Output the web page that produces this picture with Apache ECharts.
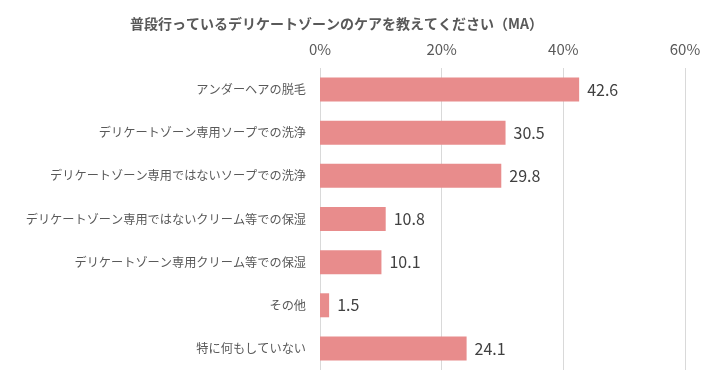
<!DOCTYPE html>
<html><head><meta charset="utf-8">
<script src="https://cdn.jsdelivr.net/npm/echarts@6/dist/echarts.min.js"></script>
<style>html,body{margin:0;padding:0;background:#fff}#c{width:711px;height:371px}</style>
</head><body><div id="c"></div>
<script>
const titleText = '普段行っているデリケートゾーンのケアを教えてください（MA）';
const categories = ['アンダーヘアの脱毛','デリケートゾーン専用ソープでの洗浄','デリケートゾーン専用ではないソープでの洗浄','デリケートゾーン専用ではないクリーム等での保湿','デリケートゾーン専用クリーム等での保湿','その他','特に何もしていない'];
const values = [42.6, 30.5, 29.8, 10.8, 10.1, 1.5, 24.1];
const axisMax = 60, axisStep = 20;
const font = '"Noto Sans CJK JP", "Noto Sans", sans-serif';
const chart = echarts.init(document.getElementById('c'));
chart.setOption({
  animation:false,
  backgroundColor:'#fff',
  title:{text:titleText,left:125,top:12,textStyle:{fontFamily:font,fontSize:14,fontWeight:'bold',color:'#595959'}},
  grid:{left:320,right:26,top:68,bottom:1,containLabel:false},
  xAxis:{type:'value',position:'top',min:0,max:axisMax,interval:axisStep,
    axisLabel:{formatter:'{value}%',color:'#595959',fontFamily:font,fontSize:15,margin:11},
    axisLine:{show:false},axisTick:{show:false},
    splitLine:{lineStyle:{color:'#d9d9d9',width:1}}},
  yAxis:{type:'category',data:categories,inverse:true,
    axisLine:{show:false},axisTick:{show:false},
    axisLabel:{color:'#595959',fontFamily:font,fontSize:12.2,margin:14}},
  series:[{type:'bar',data:values,barWidth:24,itemStyle:{color:'#E88C8C'},
    label:{show:true,position:'right',distance:8,color:'#404040',fontFamily:font,fontSize:16,formatter:p=>p.value.toFixed(1)}}]
});
</script></body></html>
